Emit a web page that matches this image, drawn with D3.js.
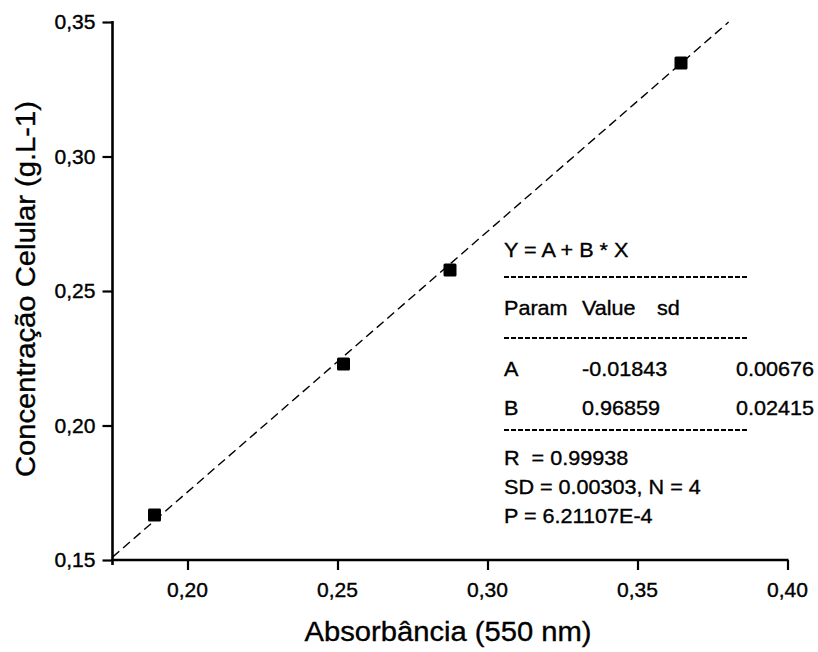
<!DOCTYPE html>
<html>
<head>
<meta charset="utf-8">
<script src="https://cdn.jsdelivr.net/npm/d3@7/dist/d3.min.js"></script>
<style>
  html, body { margin: 0; padding: 0; background: #fff; }
  svg text { font-family: "Liberation Sans", Arial, Helvetica, sans-serif; fill: #000;
             stroke: #000; stroke-width: 0.35px; white-space: pre; }
</style>
</head>
<body>
<svg id="chart" width="818" height="652"></svg>
<script>
// Calibration points: absorbance at 550 nm vs. cell concentration (g/L)
const absorbance    = [0.189, 0.252, 0.2875, 0.3645];
const concentration = [0.1667, 0.2229, 0.2578, 0.3348];

// Linear fit Y = A + B * X
const fitA = -0.01843;
const fitB = 0.96859;

// Axis ticks
const xMajorTicks = [0.20, 0.25, 0.30, 0.35, 0.40];
const xMinorTicks = [0.225, 0.275, 0.325, 0.375];
const yMajorTicks = [0.15, 0.20, 0.25, 0.30, 0.35];
const yMinorTicks = [0.175, 0.225, 0.275, 0.325];

// Fit report lines
const fitTitle   = "Y = A + B * X";
const fitHeader  = ["Param", "Value", "sd"];
const fitRows    = [["A", "-0.01843", "0.00676"], ["B", "0.96859", "0.02415"]];
const fitSummary = ["R  = 0.99938", "SD = 0.00303, N = 4", "P = 6.21107E-4"];

const xTitle = "Absorbância (550 nm)";
const yTitle = "Concentração Celular (g.L-1)";

const svg = d3.select("#chart");
const fmt = v => d3.format(".2f")(v).replace(".", ",");

const x = d3.scaleLinear().domain([0.175, 0.40]).range([112.5, 787.5]);
const y = d3.scaleLinear().domain([0.15, 0.35]).range([560, 22]);

const stretch = 1.08;

// X axis: major + minor ticks pointing down
const gx = svg.append("g").attr("transform", `translate(0,${y(0.15)})`);
gx.call(d3.axisBottom(x).tickValues(xMinorTicks).tickSize(6).tickFormat(""));
gx.call(d3.axisBottom(x).tickValues(xMajorTicks).tickSize(10).tickFormat(""));
gx.selectAll("path.domain").remove();
gx.append("line").attr("x1", x(0.175) - 1).attr("x2", x(0.40) + 1)
  .attr("y1", 0).attr("y2", 0).attr("stroke", "#000").attr("stroke-width", 2.6);
gx.selectAll(".tick line").attr("stroke", "#000").attr("stroke-width", 2.2);
xMajorTicks.forEach(v => {
  gx.append("g").attr("transform", `translate(${x(v)},37) scale(${stretch},1)`)
    .append("text").attr("text-anchor", "middle").attr("font-size", 19.5).text(fmt(v));
});

// Y axis: major + minor ticks pointing left
const gy = svg.append("g").attr("transform", `translate(${x(0.175)},0)`);
gy.call(d3.axisLeft(y).tickValues(yMinorTicks).tickSize(6).tickFormat(""));
gy.call(d3.axisLeft(y).tickValues(yMajorTicks).tickSize(10).tickFormat(""));
gy.selectAll("path.domain").remove();
gy.append("line").attr("x1", 0).attr("x2", 0)
  .attr("y1", y(0.35) - 1).attr("y2", y(0.15) + 5).attr("stroke", "#000").attr("stroke-width", 2.6);
gy.selectAll(".tick line").attr("stroke", "#000").attr("stroke-width", 2.2);
yMajorTicks.forEach(v => {
  gy.append("g").attr("transform", `translate(-17,${y(v) + 7}) scale(${stretch},1)`)
    .append("text").attr("text-anchor", "end").attr("font-size", 19.5).text(fmt(v));
});

// Axis titles
svg.append("g").attr("transform", `translate(${(x(0.175) + x(0.40)) / 2 - 2},641) scale(${stretch},1)`)
  .append("text").attr("text-anchor", "middle").attr("font-size", 27).text(xTitle);
svg.append("g").attr("transform", `translate(35,${y(0.25) - 2}) rotate(-90) scale(${stretch},1)`)
  .append("text").attr("text-anchor", "middle").attr("font-size", 27).text(yTitle);

// Fitted line, clipped to the plotting range
const xEnd = Math.min(0.40, (0.35 - fitA) / fitB);
const fitLine = [0.175, xEnd].map(v => [v, fitA + fitB * v]);
svg.append("path")
  .attr("d", d3.line().x(d => x(d[0])).y(d => y(d[1]))(fitLine))
  .attr("fill", "none").attr("stroke", "#000").attr("stroke-width", 1.4)
  .attr("stroke-dasharray", "9,5");

// Data markers
const pts = absorbance.map((v, i) => ({ x: v, y: concentration[i] }));
const ms = 13;
svg.append("g").selectAll("rect").data(pts).join("rect")
  .attr("x", d => x(d.x) - ms / 2).attr("y", d => y(d.y) - ms / 2)
  .attr("width", ms).attr("height", ms).attr("rx", 1.5).attr("fill", "#000");

// Fit report block
const box = svg.append("g");
const left = 504, col2 = 582, col3 = 736, sdCol = 657;
function put(txt, px, py) {
  box.append("g").attr("transform", `translate(${px},${py}) scale(${stretch},1)`)
    .append("text").attr("font-size", 20).text(txt);
}
function rule(py) {
  box.append("line").attr("x1", left).attr("x2", 748).attr("y1", py).attr("y2", py)
    .attr("stroke", "#000").attr("stroke-width", 1.8).attr("stroke-dasharray", "5,2");
}
put(fitTitle, left, 257);
rule(277);
put(fitHeader[0], left, 315); put(fitHeader[1], col2, 315); put(fitHeader[2], sdCol, 315);
rule(338);
fitRows.forEach((r, i) => {
  const py = 376 + i * 39;
  put(r[0], left, py); put(r[1], col2, py); put(r[2], col3, py);
});
rule(430);
fitSummary.forEach((t, i) => put(t, left, 465 + i * 29));
</script>
</body>
</html>
